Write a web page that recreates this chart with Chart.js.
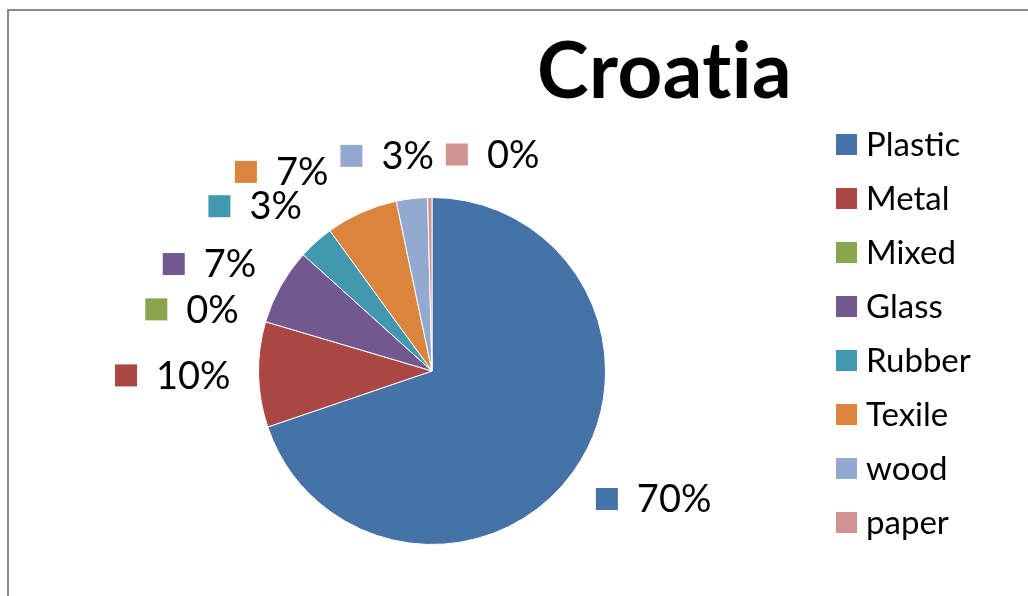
<!DOCTYPE html>
<html>
<head>
<meta charset="utf-8">
<script src="https://cdn.jsdelivr.net/npm/chart.js@4"></script>
<style>
  html, body { margin: 0; padding: 0; background: #fff; }
  #wrap { position: relative; width: 1028px; height: 596px; overflow: hidden; }
</style>
</head>
<body>
<div id="wrap"><canvas id="pieChart" width="1028" height="596"></canvas></div>
<script>
const chartTitle = 'Croatia';
const categories = ['Plastic', 'Metal', 'Mixed', 'Glass', 'Rubber', 'Texile', 'wood', 'paper'];
const shares = [69.7, 9.8, 0, 7.1, 3.3, 6.7, 2.9, 0.4];
const sliceColors = ['#4572A7', '#AA4643', '#89A54E', '#71588F', '#4198AF', '#DB843D', '#93A9CF', '#D19392'];

const FONT = 'Lato, "Open Sans", sans-serif';
const total = shares.reduce((a, b) => a + b, 0);

// grey frame of the chart object (runs off the right/bottom edge)
const framePlugin = {
    id: 'frame',
    beforeDraw(chart) {
        const ctx = chart.ctx;
        ctx.save();
        ctx.strokeStyle = '#8a8a8a';
        ctx.lineWidth = 2;
        ctx.strokeRect(8, 10, 1200, 800);
        ctx.restore();
    }
};

// title + legend on the right
const textPlugin = {
    id: 'texts',
    afterDraw(chart) {
        const ctx = chart.ctx;
        ctx.save();
        ctx.fillStyle = '#000';
        ctx.textBaseline = 'alphabetic';
        ctx.font = 'bold 78px ' + FONT;
        ctx.letterSpacing = '0.5px'; // keeps "ti" from turning into a ligature
        ctx.fillText(chartTitle, 537, 98);
        ctx.letterSpacing = '0px';

        ctx.font = '33px ' + FONT;
        ctx.textBaseline = 'middle';
        chart.data.labels.forEach((lbl, i) => {
            const y = 144.5 + i * 54;
            ctx.fillStyle = sliceColors[i];
            ctx.fillRect(836, y - 10.5, 21, 21);
            ctx.fillStyle = '#000';
            ctx.fillText(lbl, 866, y + 1);
        });
        ctx.restore();
    }
};

// percentage labels outside the slices, with colour key
const labelPlugin = {
    id: 'pctLabels',
    afterDatasetsDraw(chart) {
        const ctx = chart.ctx;
        const meta = chart.getDatasetMeta(0);
        ctx.save();
        ctx.font = '38px ' + FONT;
        const boxes = meta.data.map((arc, i) => {
            const p = arc.getProps(['x', 'y', 'startAngle', 'endAngle', 'outerRadius'], true);
            const mid = (p.startAngle + p.endAngle) / 2;
            const c = Math.cos(mid), s = Math.sin(mid);
            const m = Math.max(Math.abs(c), Math.abs(s));
            const d = p.outerRadius + 28;
            const text = Math.round(shares[i] / total * 100) + '%';
            const w = 22 + 19 + ctx.measureText(text).width;
            const h = 30;
            // nearest edge/corner of the label box sits on the ray
            return { i, text, w, h, cx: p.x + c * d + (c / m) * w / 2, cy: p.y + s * d + (s / m) * h / 2 };
        });
        // push overlapping labels apart sideways
        for (let k = 0; k < 200; k++) {
            for (let a = 0; a < boxes.length; a++) {
                for (let b = a + 1; b < boxes.length; b++) {
                    const A = boxes[a], B = boxes[b];
                    const dx = B.cx - A.cx, dy = B.cy - A.cy;
                    const needX = (A.w + B.w) / 2 + 12;
                    if (Math.abs(dx) < needX && Math.abs(dy) < (A.h + B.h) / 2) {
                        const sh = (needX - Math.abs(dx)) / 2;
                        const sg = dx >= 0 ? 1 : -1;
                        A.cx -= sg * sh;
                        B.cx += sg * sh;
                    }
                }
            }
        }
        ctx.textBaseline = 'middle';
        boxes.forEach(b => {
            const left = b.cx - b.w / 2;
            ctx.fillStyle = sliceColors[b.i];
            ctx.fillRect(left, b.cy - 11, 22, 22);
            ctx.fillStyle = '#000';
            ctx.fillText(b.text, left + 41, b.cy + 1);
        });
        ctx.restore();
    }
};

new Chart(document.getElementById('pieChart'), {
    type: 'pie',
    data: {
        labels: categories,
        datasets: [{
            data: shares,
            backgroundColor: sliceColors,
            borderColor: '#ffffff',
            borderWidth: 1
        }]
    },
    options: {
        responsive: false,
        animation: false,
        devicePixelRatio: 1,
        layout: { padding: { top: 197, bottom: 51, left: 0, right: 164 } },
        plugins: {
            legend: { display: false },
            title: { display: false },
            tooltip: { enabled: false }
        }
    },
    plugins: [framePlugin, textPlugin, labelPlugin]
});
</script>
</body>
</html>
